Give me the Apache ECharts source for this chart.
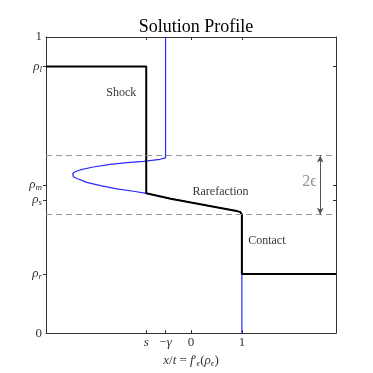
<!DOCTYPE html>
<html><head><meta charset="utf-8">
<script src="https://cdn.jsdelivr.net/npm/echarts@6/dist/echarts.min.js"></script>
<style>html,body{margin:0;padding:0;background:#fff}#c{width:373px;height:373px}</style>
</head><body><div id="c"></div>
<script>
// ---- data ----
const xMin = -2.85, xMax = 2.85;
const sVal = -0.88, negGamma = -0.5;
const rhoL = 0.9, rhoM = 0.5, rhoS = 0.45, rhoR = 0.2;
const epsBand = [0.4, 0.6];
const xTickValues = [sVal, negGamma, 0, 1];
const xTickLabels = ['{i|s}', '−{i|γ}', '0', '1'];
const yTickValues = [0, rhoR, rhoS, rhoM, rhoL, 1];
const yTickLabels = ['0', '{i|ρ}{sub|r}', '{i|ρ}{sub|s}', '{i|ρ}{sub|m}', '{i|ρ}{sub|l}', '1'];
const rhoTickValues = [rhoR, rhoS, rhoM, rhoL];
// blue curve x = f'_eps(rho)
const blueX   = [-0.5, -0.5, -0.61, -0.935, -1.26, -1.59, -1.92, -2.18, -2.28, -2.325, -2.335, -2.31, -2.24, -2.05, -1.78, -1.46, -1.13, -0.88, -0.4, 0, 0.5, 0.9, 0.97, 0.995, 1, 1];
const blueRho = [1, 0.592, 0.587, 0.580, 0.576, 0.570, 0.561, 0.551, 0.545, 0.539, 0.533, 0.528, 0.522, 0.509, 0.498, 0.487, 0.479, 0.472, 0.454, 0.441, 0.425, 0.412, 0.409, 0.404, 0.4, 0];
// black solution
const solX   = [-2.85, -0.88, -0.88, -0.4, 0, 0.5, 0.9, 0.97, 0.995, 1, 1, 2.85];
const solRho = [0.9, 0.9, 0.472, 0.454, 0.441, 0.425, 0.412, 0.409, 0.404, 0.4, 0.2, 0.2];
// annotations
const annoText = ['Shock', 'Rarefaction', 'Contact'];
const annoX = [-1.37, 0.58, 1.49];
const annoRho = [0.812, 0.476, 0.313];
const epsLabel = '2ϵ';
const epsLabelX = 2.33, epsLabelRho = 0.51;
const arrowX = 2.54;

const serif = '"Liberation Serif", "DejaVu Serif", serif';
const rich = {
  i: {fontStyle: 'italic', fontFamily: serif, fontSize: 13, color: '#333'},
  sub: {fontStyle: 'italic', fontFamily: serif, fontSize: 9, color: '#333', padding: [6, 0, 0, 0]}
};
function lab(values, labels) {
  return function (v) {
    let k = 0, d = 1e9;
    values.forEach((t, j) => { if (Math.abs(t - v) < d) { d = Math.abs(t - v); k = j; } });
    return labels[k];
  };
}
const axisLineStyle = {color: '#333', width: 1};

const chart = echarts.init(document.getElementById('c'), null, {renderer: 'canvas'});
chart.setOption({
  animation: false,
  title: {text: 'Solution Profile', left: 191, textAlign: 'center', top: 13,
    textStyle: {fontFamily: serif, fontWeight: 'normal', fontSize: 18, color: '#000'}},
  grid: {left: 46, right: 37, top: 37, bottom: 38},
  xAxis: [{
    type: 'value', min: xMin, max: xMax, position: 'bottom',
    axisLine: {onZero: false, lineStyle: axisLineStyle}, splitLine: {show: false},
    axisTick: {inside: true, length: 3, customValues: xTickValues, lineStyle: axisLineStyle},
    axisLabel: {customValues: xTickValues, formatter: lab(xTickValues, xTickLabels), margin: 3,
      fontFamily: serif, fontSize: 13, color: '#333', rich: rich},
    name: '{i|x}/{i|t} = {i|f}′{sub|ϵ}({i|ρ}{sub|ϵ})', nameLocation: 'middle', nameGap: 16,
    nameTextStyle: {fontFamily: serif, fontSize: 13, color: '#333', rich: rich}
  }, {
    type: 'value', min: xMin, max: xMax, position: 'top',
    axisLine: {onZero: false, lineStyle: axisLineStyle}, splitLine: {show: false},
    axisTick: {inside: true, length: 3, customValues: xTickValues, lineStyle: axisLineStyle},
    axisLabel: {show: false}
  }],
  yAxis: [{
    type: 'value', min: 0, max: 1, position: 'left',
    axisLine: {onZero: false, lineStyle: axisLineStyle}, splitLine: {show: false},
    axisTick: {inside: false, length: 3, customValues: rhoTickValues, lineStyle: axisLineStyle},
    axisLabel: {customValues: yTickValues, formatter: lab(yTickValues, yTickLabels), margin: 4,
      fontFamily: serif, fontSize: 13, color: '#333', rich: rich}
  }, {
    type: 'value', min: 0, max: 1, position: 'right',
    axisLine: {onZero: false, lineStyle: axisLineStyle}, splitLine: {show: false},
    axisTick: {inside: true, length: 3, customValues: rhoTickValues, lineStyle: axisLineStyle},
    axisLabel: {show: false}
  }],
  series: [{
    type: 'line', name: 'flux', xAxisIndex: 0, yAxisIndex: 0,
    data: blueX.map((x, i) => [x, blueRho[i]]),
    showSymbol: false, smooth: false, lineStyle: {color: '#2a2aff', width: 1.2}, z: 2,
    markLine: {silent: true, symbol: 'none', label: {show: false},
      lineStyle: {type: [6, 4], color: '#999', width: 1},
      data: epsBand.map(v => ({yAxis: v}))}
  }, {
    type: 'line', name: 'solution', xAxisIndex: 0, yAxisIndex: 0,
    data: solX.map((x, i) => [x, solRho[i]]),
    showSymbol: false, lineStyle: {color: '#000', width: 2}, z: 3,
    markLine: {silent: true, symbol: ['arrow', 'arrow'], symbolSize: [5, 7], label: {show: false},
      lineStyle: {type: 'solid', color: '#555', width: 1},
      data: [[{coord: [arrowX, epsBand[1]]}, {coord: [arrowX, epsBand[0]]}]]}
  }, {
    type: 'scatter', name: 'notes', symbolSize: 0, z: 4,
    data: annoText.map((t, i) => ({value: [annoX[i], annoRho[i]], name: t})),
    label: {show: true, position: 'inside', formatter: p => p.name,
      fontFamily: serif, fontSize: 12, color: '#000'}
  }, {
    type: 'scatter', name: 'eps', symbolSize: 0, z: 4,
    data: [{value: [epsLabelX, epsLabelRho], name: epsLabel}],
    label: {show: true, position: 'inside', formatter: p => p.name,
      fontFamily: serif, fontSize: 16, color: '#777'}
  }]
});
</script></body></html>
